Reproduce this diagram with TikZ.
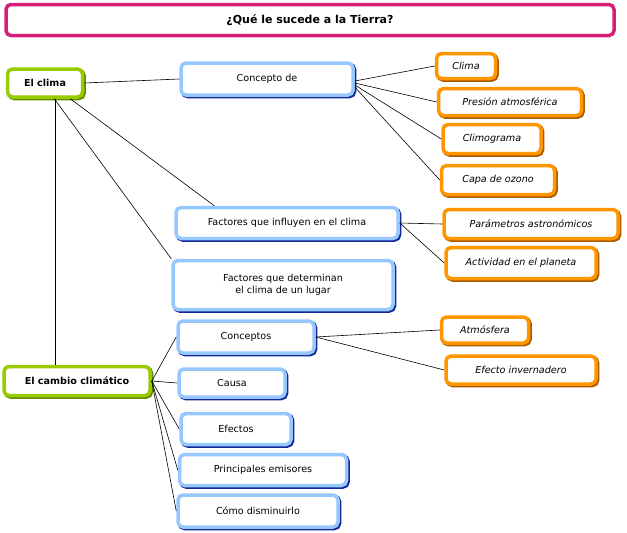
\documentclass[tikz,border=0pt]{standalone}
\usepackage{fontspec}
\setmainfont{DejaVu Sans}
\usetikzlibrary{positioning}
\definecolor{verde}{RGB}{153,204,0}
\definecolor{verdeosc}{RGB}{100,140,0}
\definecolor{azul}{RGB}{150,200,255}
\definecolor{azulosc}{RGB}{20,40,150}
\definecolor{naranja}{RGB}{255,150,0}
\definecolor{naranjaosc}{RGB}{170,90,0}
\definecolor{magenta}{RGB}{215,30,120}
\begin{document}
\begin{tikzpicture}[x=1pt,y=-1pt,
    caja/.style={
      rectangle,
      rounded corners=5pt,
      line width=3.5pt,
      fill=white,
      font=\fontsize{9.6}{12}\selectfont,
      align=center,
      inner sep=0pt
    },
    tema/.style={caja, draw=verde,
      preaction={draw=verdeosc, transform canvas={shift={(1.5pt,-1.5pt)}}},
      font=\fontsize{9.6}{12}\selectfont\bfseries},
    sub/.style={caja, draw=azul,
      preaction={draw=azulosc, transform canvas={shift={(1.5pt,-1.5pt)}}}},
    hoja/.style={caja, draw=naranja,
      preaction={draw=naranjaosc, transform canvas={shift={(1.5pt,-1.5pt)}}},
      font=\fontsize{9.6}{12}\selectfont\itshape},
    enlace/.style={draw, line width=0.6pt}
  ]
  \useasboundingbox (0,0) rectangle (627,533);
  %% Title
  \node[caja, draw=magenta, minimum width=608pt, minimum height=31pt,
    font=\fontsize{11}{13}\selectfont\bfseries] (titulo) at (310,20)
    {¿Qué le sucede a la Tierra?};
  %% Main topics
  \node[tema, minimum width=75pt, minimum height=28pt] (clima) at (45,83) {El clima};
  \node[tema, minimum width=146pt, minimum height=29pt] (cambio) at (77,381) {El cambio climático};
  %% Sub topics of El clima
  \node[sub, minimum width=172pt, minimum height=32pt] (concepto) at (267,79) {Concepto de};
  \node[sub, minimum width=222pt, minimum height=31pt] (influyen) at (287,223) {Factores que influyen en el clima};
  \node[sub, minimum width=220pt, minimum height=49pt] (determinan) at (283,285) {Factores que determinan\\el clima de un lugar};
  %% Sub topics of El cambio climatico
  \node[sub, minimum width=136pt, minimum height=32pt] (conceptos) at (246,337) {Conceptos};
  \node[sub, minimum width=106pt, minimum height=28pt] (causa) at (232,383) {Causa};
  \node[sub, minimum width=110pt, minimum height=31pt] (efectos) at (236,429) {Efectos};
  \node[sub, minimum width=167pt, minimum height=31pt] (emisores) at (263,470) {Principales emisores};
  \node[sub, minimum width=160pt, minimum height=32pt] (disminuir) at (258,511) {Cómo disminuirlo};
  %% Leaves
  \node[hoja, minimum width=59pt, minimum height=25pt] (h-clima) at (466,66) {Clima};
  \node[hoja, minimum width=143pt, minimum height=27pt] (h-presion) at (510,102) {Presión atmosférica};
  \node[hoja, minimum width=98pt, minimum height=29pt] (h-climograma) at (492,139) {Climograma};
  \node[hoja, minimum width=113pt, minimum height=29pt] (h-ozono) at (498,180) {Capa de ozono};
  \node[hoja, minimum width=174pt, minimum height=29pt] (h-astro) at (531,224) {Parámetros astronómicos};
  \node[hoja, minimum width=150pt, minimum height=31pt] (h-actividad) at (521,263) {Actividad en el planeta};
  \node[hoja, minimum width=87pt, minimum height=26pt] (h-atmosfera) at (485,330) {Atmósfera};
  \node[hoja, minimum width=150pt, minimum height=28pt] (h-efecto) at (521,370) {Efecto invernadero};
  %% Connectors
  \path[enlace] (clima.east) -- (concepto.west);
  \path[enlace] ([xshift=-14pt]clima.south east) -- ([xshift=40pt]influyen.north west);
  \path[enlace] ([xshift=-30pt]clima.south east) -- (determinan.north west);
  \path[enlace] ([xshift=10pt]clima.south) -- ([xshift=10pt]clima.south |- cambio.north);
  \foreach \h/\y in {h-clima/-2, h-presion/-4, h-climograma/-6, h-ozono/-8}
    \path[enlace] ([yshift=\y pt]concepto.east) -- (\h.west);
  \foreach \h in {h-astro, h-actividad}
    \path[enlace] (influyen.east) -- (\h.west);
  \foreach \h in {h-atmosfera, h-efecto}
    \path[enlace] (conceptos.east) -- (\h.west);
  \foreach \s in {conceptos, causa, efectos, emisores, disminuir}
    \path[enlace] (cambio.east) -- (\s.west);
\end{tikzpicture}
\end{document}
